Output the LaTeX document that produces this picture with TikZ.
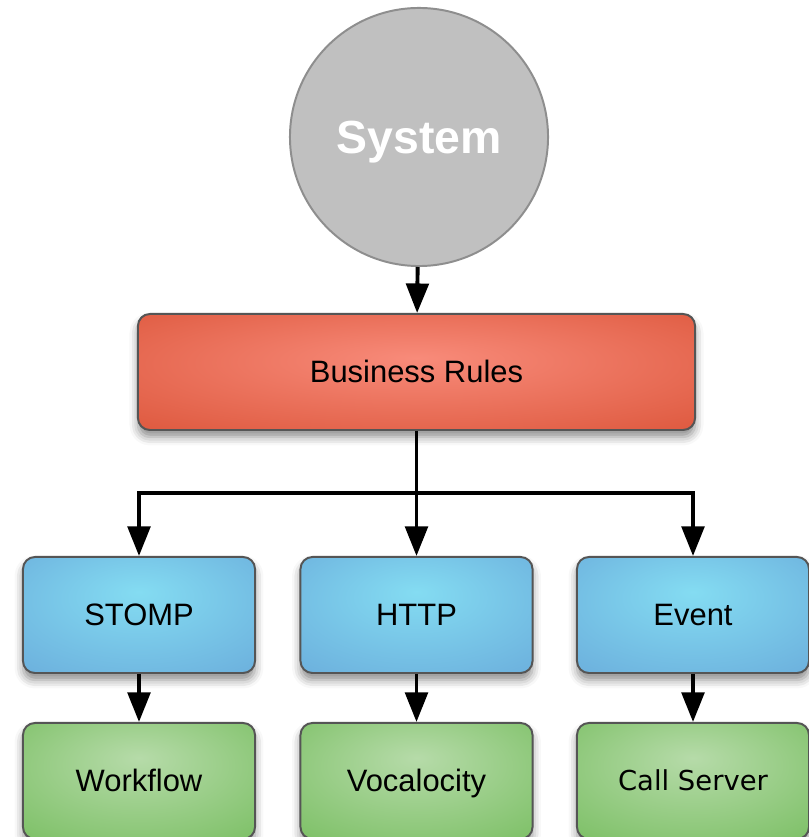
\documentclass[tikz,border=0pt]{standalone}
\usepackage{fontspec}
\setmainfont{Liberation Sans}
\newfontfamily\lucida{DejaVu Sans}
\usetikzlibrary{positioning}
\usetikzlibrary{arrows.meta}
\usetikzlibrary{shadows.blur}

\definecolor{sysfill}{HTML}{C0C0C0}
\definecolor{sysline}{HTML}{8E8E8E}
\definecolor{boxline}{HTML}{555555}
\definecolor{redin}{HTML}{F88B7A}
\definecolor{redout}{HTML}{DF5B41}
\definecolor{bluein}{HTML}{84DCF2}
\definecolor{blueout}{HTML}{6BAEDC}
\definecolor{greenin}{HTML}{B6DBA9}
\definecolor{greenout}{HTML}{7BBF64}

\pgfdeclareradialshading{redglow}{\pgfpoint{0bp}{6bp}}{color(0bp)=(redin); color(36bp)=(redout); color(60bp)=(redout)}
\pgfdeclareradialshading{blueglow}{\pgfpoint{0bp}{10bp}}{color(0bp)=(bluein); color(40bp)=(blueout); color(60bp)=(blueout)}
\pgfdeclareradialshading{greenglow}{\pgfpoint{0bp}{10bp}}{color(0bp)=(greenin); color(40bp)=(greenout); color(60bp)=(greenout)}

\tikzset{
  box/.style={rectangle, rounded corners=8.5pt, draw=boxline, line width=1.4pt,
    minimum width=5.8cm, minimum height=2.9cm, inner sep=0pt,
    font=\fontsize{22}{26}\selectfont, text height=15.6pt, text depth=0pt,
    blur shadow={shadow xshift=0pt, shadow yshift=-5pt, shadow blur radius=6pt, shadow opacity=45}},
  rulebox/.style={box, shading=redglow, minimum width=13.925cm},
  protobox/.style={box, shading=blueglow},
  appbox/.style={box, shading=greenglow},
  sysnode/.style={circle, fill=sysfill, draw=sysline, line width=1.4pt,
    minimum size=6.45cm, inner sep=0pt, text=white,
    font=\fontsize{33}{38}\selectfont\bfseries, text height=23.6pt, text depth=0pt},
  link/.style={line width=2.8pt},
  arrow/.style={link, -{Triangle[length=21pt,width=16pt]}}
}

\begin{document}
\begin{tikzpicture}[x=0.025cm, y=0.025cm]
  \useasboundingbox (0,0) rectangle (809,837);

  \node[sysnode] (sys) at (419,700) {System};
  \node[rulebox] (rules) at (416.5,465) {Business Rules};

  \node[protobox] (stomp) at (139,222) {STOMP};
  \node[protobox] (http) at (416.5,222) {HTTP};
  \node[protobox] (event) at (693,222) {Event};

  \node[appbox] (workflow) at (139,56) {Workflow};
  \node[appbox] (vocalocity) at (416.5,56) {Vocalocity};
  \node[appbox, font=\fontsize{19.5}{24}\selectfont\lucida, text height=14.2pt] (callserver) at (693,56) {Call Server};

  \coordinate (split) at (416.5,344);

  \draw[arrow] (sys) -- (rules);
  \draw[link] (rules) -- (split);
  \draw[arrow] (split) -| (stomp);
  \draw[arrow] (split) -- (http);
  \draw[arrow] (split) -| (event);

  \draw[arrow] (stomp) -- (workflow);
  \draw[arrow] (http) -- (vocalocity);
  \draw[arrow] (event) -- (callserver);
\end{tikzpicture}
\end{document}
